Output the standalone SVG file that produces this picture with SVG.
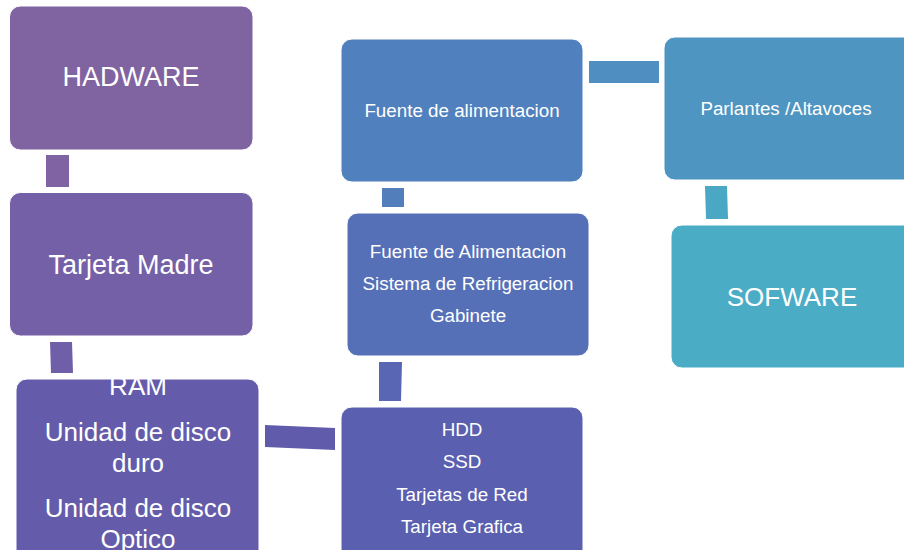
<svg xmlns="http://www.w3.org/2000/svg" width="904" height="550" viewBox="0 0 904 550">
<style>
.box{stroke:#ffffff;stroke-width:1}
text{font-family:"Liberation Sans",Arial,sans-serif;fill:#ffffff;text-anchor:middle}
.s{font-size:18.8px}
.m{font-size:26px}
.l{font-size:27px}
</style>
<rect width="904" height="550" fill="#ffffff"/>
<g id="connectors">
<polygon points="46,155 69,155 69,187 46,187" fill="#7F63A2"/>
<polygon points="50,342 72,342 73,373 51,373" fill="#6F5EA8"/>
<polygon points="265,425 335,428 335,450 265,447" fill="#615BAB"/>
<polygon points="379,362 402,362 401,401 379,401" fill="#5966B3"/>
<polygon points="382,188 404,188 404,207 382,207" fill="#527EBC"/>
<polygon points="589,61 659,61 659,83 589,83" fill="#4F8EC0"/>
<polygon points="705,186 727,186 728,219 706,219" fill="#4BA8C5"/>
</g>
<g id="hadware">
<rect class="box" x="9.5" y="6" width="243.5" height="144" rx="11" fill="#8064A2"/>
<text class="l" x="131" y="86">HADWARE</text>
</g>
<g id="tarjeta-madre">
<rect class="box" x="9.5" y="192.5" width="243.5" height="143.5" rx="11" fill="#7460A6"/>
<text class="l" x="131" y="274">Tarjeta Madre</text>
</g>
<g id="ram">
<rect class="box" x="16" y="379" width="243" height="185" rx="11" fill="#645CAA"/>
<text class="m" x="138" y="395">RAM</text>
<text class="m" x="138" y="441">Unidad de disco</text>
<text class="m" x="138" y="472">duro</text>
<text class="m" x="138" y="517">Unidad de disco</text>
<text class="m" x="138" y="548">Optico</text>
</g>
<g id="hdd">
<rect class="box" x="341" y="407" width="242" height="160" rx="11" fill="#5A60AF"/>
<text class="s" x="462" y="436">HDD</text>
<text class="s" x="462" y="468">SSD</text>
<text class="s" x="462" y="501">Tarjetas de Red</text>
<text class="s" x="462" y="533">Tarjeta Grafica</text>
</g>
<g id="fuente-alimentacion-2">
<rect class="box" x="347" y="213" width="242" height="143" rx="11" fill="#5670B8"/>
<text class="s" x="468" y="258">Fuente de Alimentacion</text>
<text class="s" x="468" y="290">Sistema de Refrigeracion</text>
<text class="s" x="468" y="322">Gabinete</text>
</g>
<g id="fuente-alimentacion">
<rect class="box" x="341" y="39" width="242" height="143" rx="11" fill="#5080BD"/>
<text class="s" x="462" y="117">Fuente de alimentacion</text>
</g>
<g id="parlantes">
<rect class="box" x="664" y="37" width="260" height="143" rx="11" fill="#4E95C1"/>
<text class="s" x="786" y="115">Parlantes /Altavoces</text>
</g>
<g id="sofware">
<rect class="box" x="671" y="225" width="260" height="143" rx="11" fill="#4BACC6"/>
<text class="m" x="792" y="306">SOFWARE</text>
</g>
</svg>
